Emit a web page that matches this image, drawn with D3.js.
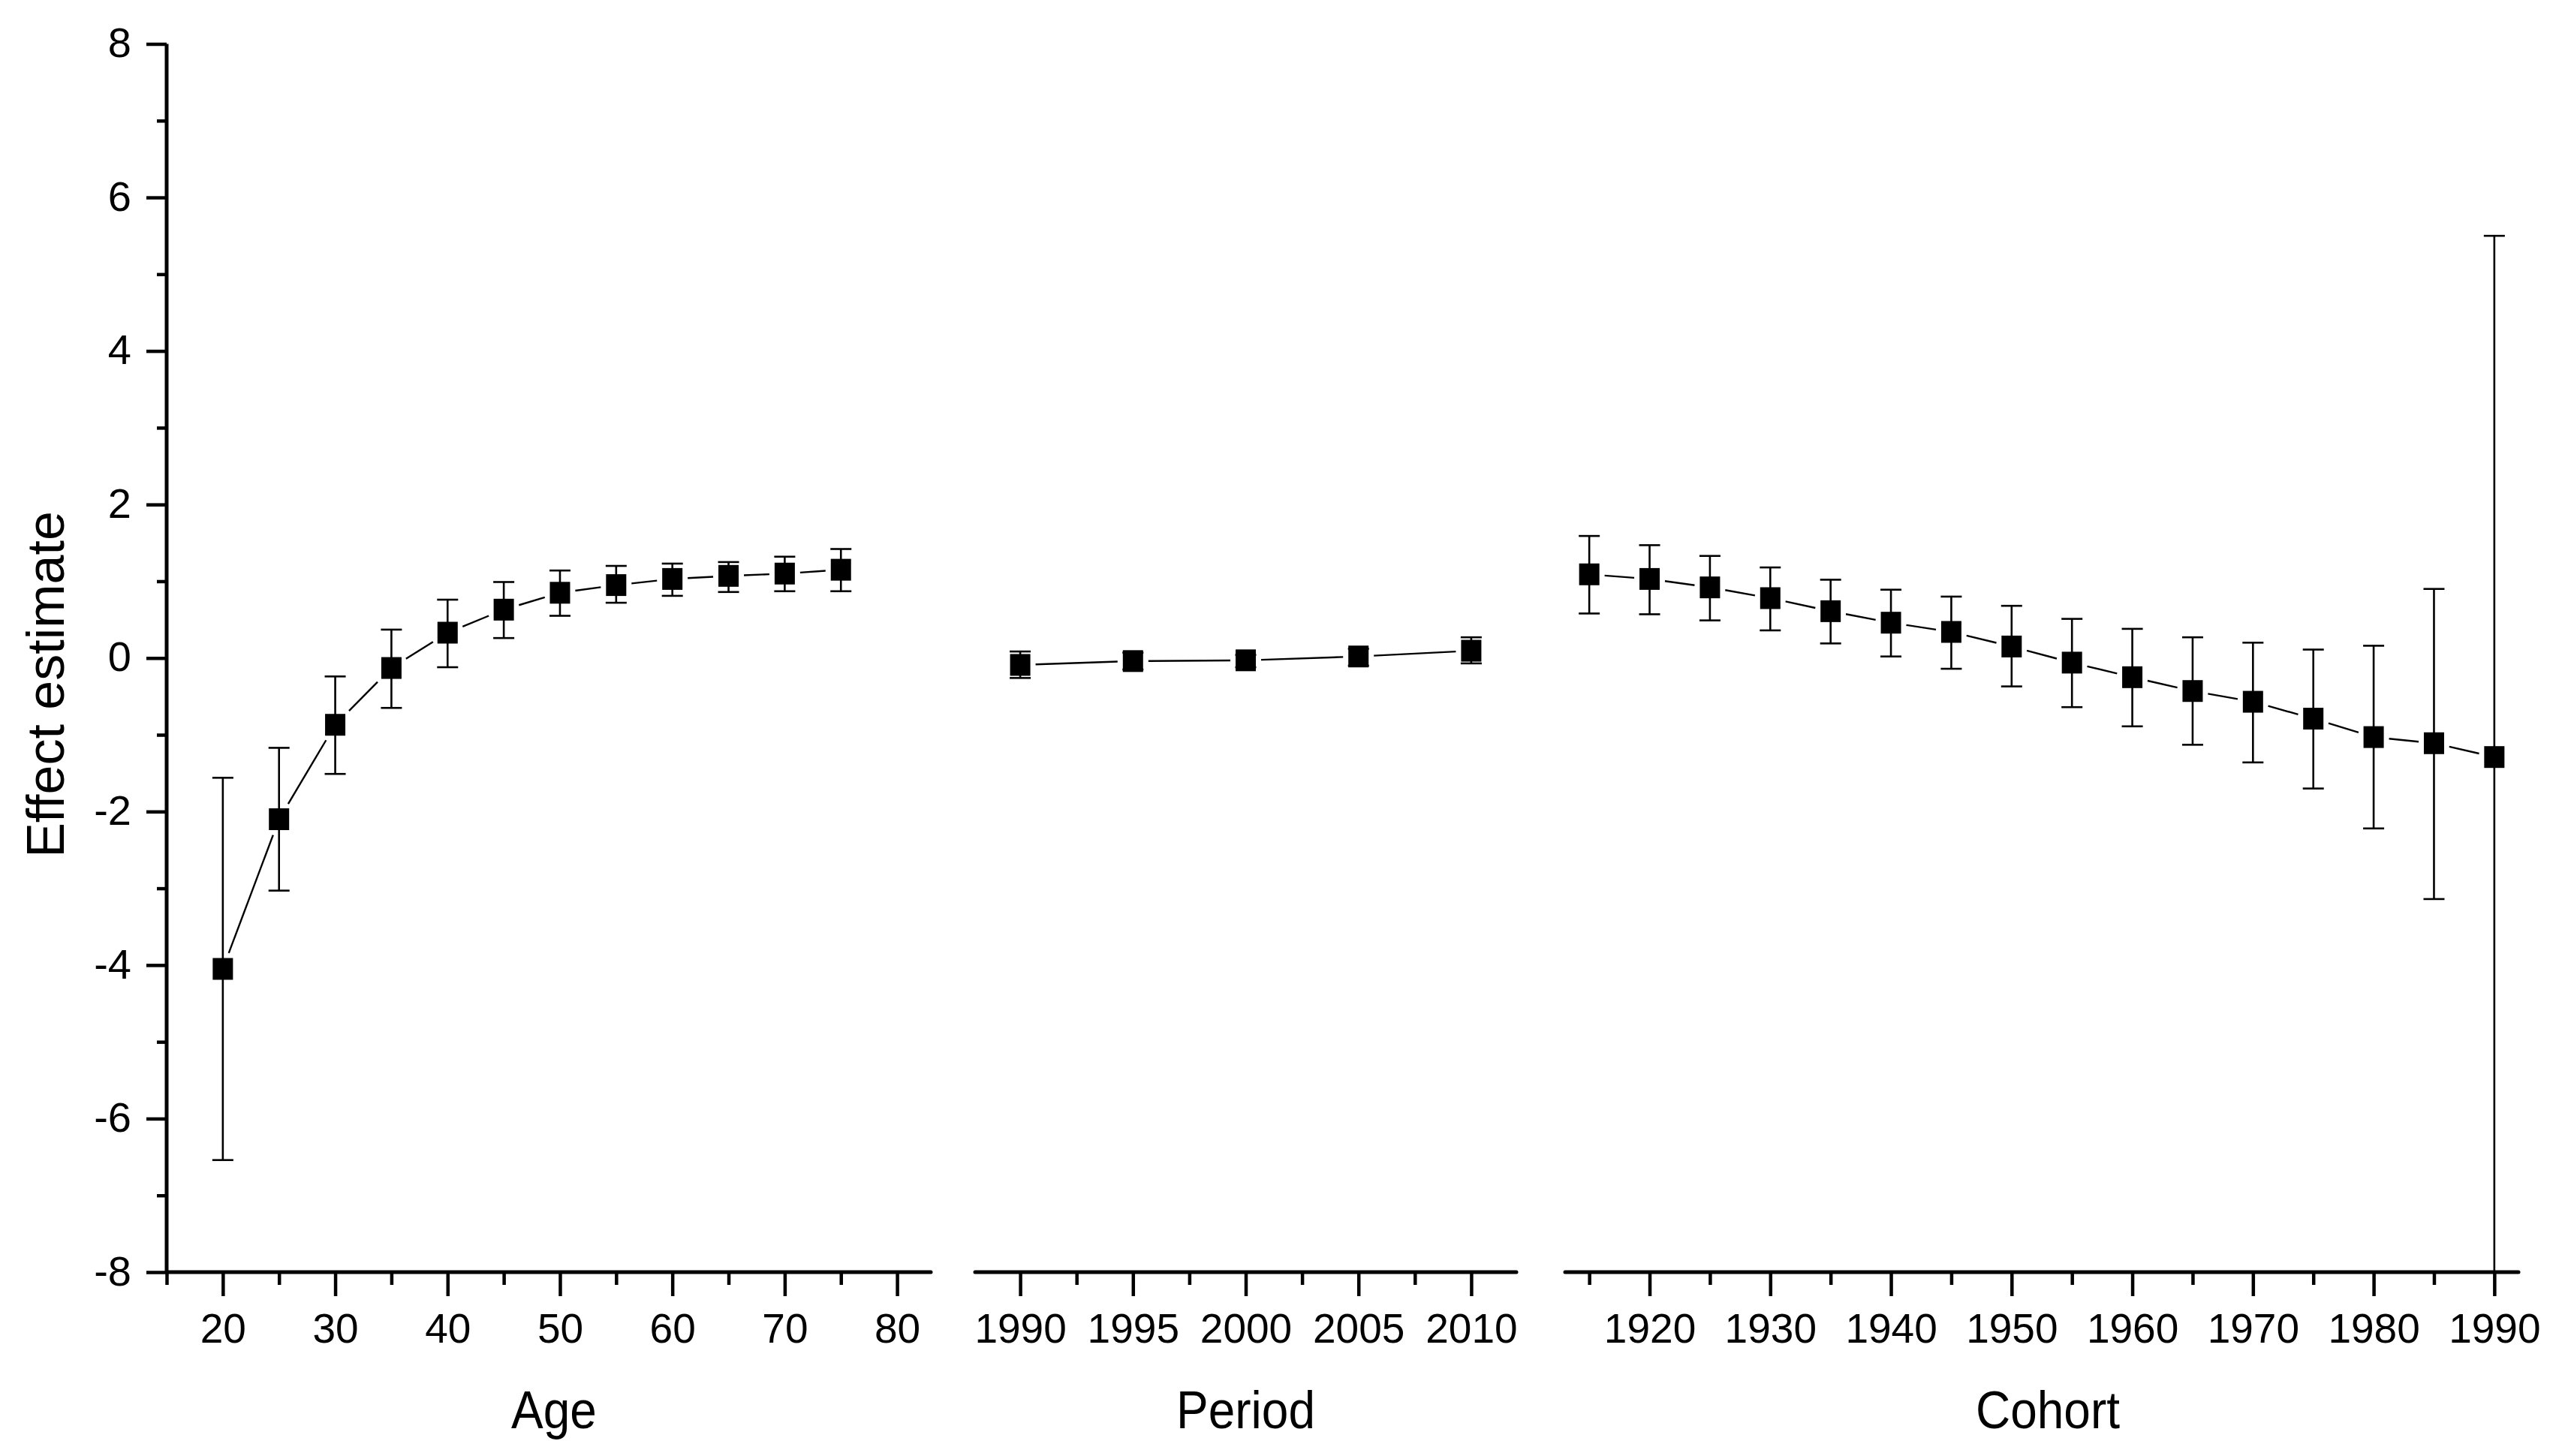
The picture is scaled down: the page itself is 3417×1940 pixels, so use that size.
<!DOCTYPE html>
<html><head><meta charset="utf-8">
<script src="https://cdn.jsdelivr.net/npm/d3@7"></script>
<style>body{margin:0;background:#fff} svg{display:block}</style>
</head><body>
<svg id="chart" width="3417" height="1940"></svg>
<script>
// ---------- data ----------
const yTicks = [-8, -6, -4, -2, 0, 2, 4, 6, 8];
const yMinorTicks = [-7, -5, -3, -1, 1, 3, 5, 7];
const yTitle = "Effect estimate";

const ageX    = [20, 25, 30, 35, 40, 45, 50, 55, 60, 65, 70, 75];
const ageEst  = [-4.05, -2.10, -0.87, -0.13, 0.33, 0.63, 0.85, 0.95, 1.03, 1.07, 1.10, 1.15];
const ageLow  = [-6.54, -3.03, -1.51, -0.65, -0.12, 0.26, 0.55, 0.72, 0.81, 0.86, 0.87, 0.87];
const ageHigh = [-1.56, -1.17, -0.24, 0.37, 0.76, 0.99, 1.14, 1.20, 1.23, 1.25, 1.32, 1.42];
const ageTicks = [20, 30, 40, 50, 60, 70, 80];
const ageMinor = [15, 25, 35, 45, 55, 65, 75];

const periodX    = [1990, 1995, 2000, 2005, 2010];
const periodEst  = [-0.09, -0.04, -0.03, 0.02, 0.095];
const periodLow  = [-0.26, -0.15, -0.12, -0.10, -0.07];
const periodHigh = [0.085, 0.07, 0.04, 0.12, 0.27];
const periodTicks = [1990, 1995, 2000, 2005, 2010];
const periodMinor = [1992.5, 1997.5, 2002.5, 2007.5];

const cohortX    = [1915, 1920, 1925, 1930, 1935, 1940, 1945, 1950, 1955, 1960, 1965, 1970, 1975, 1980, 1985, 1990];
const cohortEst  = [1.09, 1.03, 0.92, 0.78, 0.61, 0.46, 0.34, 0.15, -0.06, -0.25, -0.43, -0.57, -0.79, -1.03, -1.11, -1.29];
const cohortLow  = [0.58, 0.57, 0.49, 0.36, 0.19, 0.02, -0.14, -0.37, -0.64, -0.89, -1.13, -1.36, -1.70, -2.22, -3.14, -8.6];
const cohortHigh = [1.59, 1.47, 1.33, 1.18, 1.02, 0.89, 0.80, 0.68, 0.51, 0.38, 0.27, 0.20, 0.11, 0.16, 0.90, 5.50];
const cohortTicks = [1920, 1930, 1940, 1950, 1960, 1970, 1980, 1990];
const cohortMinor = [1915, 1925, 1935, 1945, 1955, 1965, 1975, 1985];

const panelTitles = ["Age", "Period", "Cohort"];

// ---------- layout ----------
const W = 3417, H = 1940;
const FONT = '"Liberation Sans", Arial, Helvetica, sans-serif';
const svg = d3.select("#chart");
svg.append("rect").attr("width", W).attr("height", H).attr("fill", "#fff");

const y = d3.scaleLinear().domain([-8, 8]).range([1695, 58.5]);
const y0 = y(-8);

const panels = [
  {x: d3.scaleLinear().domain([15, 83]).range([222, 1240]), xs: ageX, est: ageEst, low: ageLow, high: ageHigh, ticks: ageTicks, minor: ageMinor, title: panelTitles[0], dx: 7},
  {x: d3.scaleLinear().domain([1988, 2012]).range([1299, 2020]), xs: periodX, est: periodEst, low: periodLow, high: periodHigh, ticks: periodTicks, minor: periodMinor, title: panelTitles[1], dx: 0},
  {x: d3.scaleLinear().domain([1913, 1992]).range([2085, 3355]), xs: cohortX, est: cohortEst, low: cohortLow, high: cohortHigh, ticks: cohortTicks, minor: cohortMinor, title: panelTitles[2], dx: 8}
];

svg.append("defs").append("clipPath").attr("id", "plotclip")
  .append("rect").attr("x", 0).attr("y", 0).attr("width", W).attr("height", y0);

const HW = 13.5, HH = 14.5, GAP = 7, CAP = 14;

panels.forEach(p => {
  const g = svg.append("g").attr("clip-path", "url(#plotclip)");
  const pts = p.xs.map((v, i) => ({cx: p.x(v), cy: y(p.est[i]), lo: y(p.low[i]), hi: y(p.high[i])}));

  // error bars
  g.selectAll(".eb").data(pts).enter().append("line")
    .attr("x1", d => d.cx).attr("x2", d => d.cx)
    .attr("y1", d => d.lo).attr("y2", d => d.hi)
    .attr("stroke", "#000").attr("stroke-width", 2.6);
  ["lo", "hi"].forEach(k => {
    g.selectAll(".cap" + k).data(pts).enter().append("line")
      .attr("x1", d => d.cx - CAP).attr("x2", d => d.cx + CAP)
      .attr("y1", d => d[k]).attr("y2", d => d[k])
      .attr("stroke", "#000").attr("stroke-width", 2.6);
  });

  // connecting segments with gaps around symbols
  const segs = [];
  for (let i = 0; i < pts.length - 1; i++) {
    const a = pts[i], b = pts[i + 1];
    const ddx = b.cx - a.cx, ddy = b.cy - a.cy, len = Math.hypot(ddx, ddy);
    const ux = ddx / len, uy = ddy / len;
    const tExit = Math.min(HW / Math.max(Math.abs(ux), 1e-9), HH / Math.max(Math.abs(uy), 1e-9));
    const gg = tExit + GAP;
    if (len > 2 * gg) segs.push({x1: a.cx + ux * gg, y1: a.cy + uy * gg, x2: b.cx - ux * gg, y2: b.cy - uy * gg});
  }
  g.selectAll(".seg").data(segs).enter().append("line")
    .attr("x1", d => d.x1).attr("y1", d => d.y1).attr("x2", d => d.x2).attr("y2", d => d.y2)
    .attr("stroke", "#000").attr("stroke-width", 2.4);

  // square markers
  g.selectAll(".sq").data(pts).enter().append("rect")
    .attr("x", d => d.cx - HW).attr("y", d => d.cy - HH)
    .attr("width", 2 * HW).attr("height", 2 * HH).attr("fill", "#000");

  // x axis
  const gMin = svg.append("g").attr("transform", `translate(0,${y0})`)
    .call(d3.axisBottom(p.x).tickValues(p.minor).tickSize(17).tickFormat(""));
  const gMaj = svg.append("g").attr("transform", `translate(0,${y0})`)
    .call(d3.axisBottom(p.x).tickValues(p.ticks).tickSize(32).tickFormat(d => String(d)));
  [gMin, gMaj].forEach(ga => {
    ga.select(".domain").remove();
    ga.selectAll(".tick line").attr("stroke", "#000").attr("stroke-width", 4.5);
  });
  gMaj.selectAll(".tick text")
    .attr("y", 94).attr("dy", 0)
    .attr("font-family", FONT).attr("font-size", 55).attr("fill", "#000");
  const r = p.x.range();
  svg.append("line").attr("x1", r[0]).attr("x2", r[1]).attr("y1", y0).attr("y2", y0)
    .attr("stroke", "#000").attr("stroke-width", 5).attr("stroke-linecap", "round");

  // title
  svg.append("text")
    .attr("transform", `translate(${(r[0] + r[1]) / 2 + p.dx},1903) scale(1,1.1)`)
    .attr("text-anchor", "middle").attr("font-family", FONT).attr("font-size", 64)
    .attr("fill", "#000").text(p.title);
});

// y axis
const ax0 = panels[0].x.range()[0];
const gyMin = svg.append("g").attr("transform", `translate(${ax0},0)`)
  .call(d3.axisLeft(y).tickValues(yMinorTicks).tickSize(13).tickFormat(""));
const gyMaj = svg.append("g").attr("transform", `translate(${ax0},0)`)
  .call(d3.axisLeft(y).tickValues(yTicks).tickSize(27).tickFormat(d => String(d)));
[gyMin, gyMaj].forEach(ga => {
  ga.select(".domain").remove();
  ga.selectAll(".tick line").attr("stroke", "#000").attr("stroke-width", 4.5);
});
gyMaj.selectAll(".tick text")
  .attr("x", -47).attr("y", -3).attr("dy", "0.36em")
  .attr("font-family", FONT).attr("font-size", 56).attr("fill", "#000");
svg.append("line").attr("x1", ax0).attr("x2", ax0).attr("y1", y(8)).attr("y2", y0)
  .attr("stroke", "#000").attr("stroke-width", 5);

svg.append("text")
  .attr("transform", "translate(85,912) rotate(-90)")
  .attr("text-anchor", "middle").attr("font-family", FONT).attr("font-size", 70)
  .attr("fill", "#000").text(yTitle);
</script>
</body></html>
